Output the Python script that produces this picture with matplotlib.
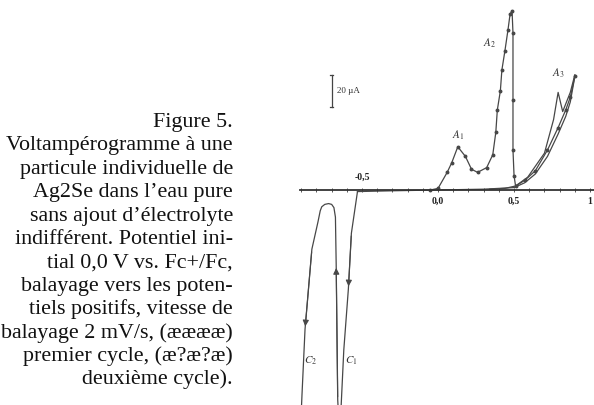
import numpy as np
import matplotlib.pyplot as plt

plt.rcParams['font.family'] = ['Liberation Serif', 'DejaVu Serif']
plt.rcParams['mathtext.fontset'] = 'stix'

caption_lines = [
    "Figure 5.",
    "Voltampérogramme à une",
    "particule individuelle de",
    "Ag2Se dans l’eau pure",
    "sans ajout d’électrolyte",
    "indifférent. Potentiel ini-",
    "tial 0,0 V vs. Fc+/Fc,",
    "balayage vers les poten-",
    "tiels positifs, vitesse de",
    "balayage 2 mV/s, (ææææ)",
    "premier cycle, (æ?æ?æ)",
    "deuxième cycle).",
]

# potential (V vs Fc+/Fc) and current (uA)
pot_cycle1 = [-0.05, 0.0, 0.06, 0.09, 0.13, 0.18, 0.22, 0.26, 0.32, 0.36, 0.38, 0.39,
              0.41, 0.42, 0.44, 0.46, 0.474, 0.487, 0.493, 0.493, 0.493, 0.50, 0.51,
              0.57, 0.64, 0.72, 0.79, 0.84, 0.87, 0.90]
cur_cycle1 = [0, 1, 11, 17, 27, 21, 13, 11, 14, 22, 36, 50,
              62, 75, 87, 100, 110, 112, 98, 56, 25, 9, 2.5,
              6, 12, 25, 39, 50, 58, 71]

pot_cycle2 = [0.34, 0.44, 0.51, 0.59, 0.70, 0.76, 0.79, 0.82, 0.87, 0.90]
cur_cycle2 = [0.5, 1, 2.5, 8, 23, 44, 61, 49, 61, 72]

pot_return = [0.90, 0.87, 0.84, 0.79, 0.72, 0.64, 0.57, 0.50, 0.30, 0.0, -0.30, -0.53]
cur_return = [71, 55, 46, 35, 21, 10, 4.5, 1.5, 0.5, 0, -0.5, -1]

pot_cath = [-0.53, -0.57, -0.59, -0.62, -0.64, -0.65, -0.66, -0.67, -0.675, -0.685,
            -0.70, -0.72, -0.745, -0.765, -0.775, -0.79, -0.83, -0.875, -0.895, -0.905]
cur_cath = [-1, -27, -62, -100, -140, -150, -131, -47, -17, -11,
            -9, -8.5, -9, -10.5, -13, -20, -37, -87, -128, -150]

tick_values = [-0.5, 0.0, 0.5, 1.0]
tick_labels = ["-0,5", "0,0", "0,5", "1"]

peak_names = ["$A_1$", "$A_2$", "$A_3$", "$C_2$", "$C_1$"]
peak_pot = [0.13, 0.34, 0.79, -0.84, -0.57]
peak_cur = [34, 92, 73, -107, -107]

scale_bar_ua = 20

fig = plt.figure(figsize=(5.94, 4.05), dpi=100)

# caption, right aligned, one line at a time
for i, line in enumerate(caption_lines):
    fig.text(233 / 594, 1 - (127 + 23.4 * i) / 405, line, ha='right', va='baseline',
             fontsize=15.8, color='#111111')

ax = fig.add_axes([295 / 594, 0, 299 / 594, 1])
ax.set_xlim(-0.941, 1.026)
ax.set_ylim(-134.4, 118.75)

line_kw = dict(color='#474747', lw=0.9)
ax.plot(pot_cycle1, cur_cycle1, marker='o', ms=1.8, **line_kw)
ax.plot(pot_cycle2, cur_cycle2, **line_kw)
ax.plot(pot_return, cur_return, **line_kw)
ax.plot(pot_cath, cur_cath, **line_kw)

# sweep direction arrows on the cathodic branches
for i in [1, 6, 16]:
    ax.annotate('', xy=(pot_cath[i + 1], cur_cath[i + 1]), xytext=(pot_cath[i], cur_cath[i]),
                arrowprops=dict(arrowstyle='-|>', color='#474747', lw=0.8, mutation_scale=9))

# potential axis through zero current
for s in ['left', 'right', 'top']:
    ax.spines[s].set_visible(False)
ax.spines['bottom'].set_position(('data', 0))
ax.spines['bottom'].set_bounds(-0.91, 1.026)
ax.spines['bottom'].set_color('#333333')
ax.spines['bottom'].set_linewidth(1.3)
ax.set_yticks([])
ax.set_xticks(tick_values)
ax.set_xticklabels([])
ax.set_xticks(np.arange(-0.9, 1.01, 0.1), minor=True)
ax.tick_params(axis='x', which='both', direction='inout', length=3, width=0.7, color='#555555')

for v, lab in zip(tick_values, tick_labels):
    dy = 8 if v < 0 else -7
    ax.text(v, dy, lab, ha='center', va='center', fontsize=7, color='#222222', fontweight='bold')

for name, x, y in zip(peak_names, peak_pot, peak_cur):
    ax.text(x, y, name, ha='center', va='center', fontsize=8, color='#333333')

# 20 uA scale bar
ax.plot([-0.70, -0.70], [52, 52 + scale_bar_ua], color='#444444', lw=0.9)
ax.plot([-0.71, -0.69], [52, 52], color='#444444', lw=0.9)
ax.plot([-0.71, -0.69], [52 + scale_bar_ua, 52 + scale_bar_ua], color='#444444', lw=0.9)
ax.text(-0.665, 52 + scale_bar_ua / 2, "%d µA" % scale_bar_ua, ha='left', va='center',
        fontsize=6.5, color='#333333')

fig.savefig('out.png', dpi=100)
